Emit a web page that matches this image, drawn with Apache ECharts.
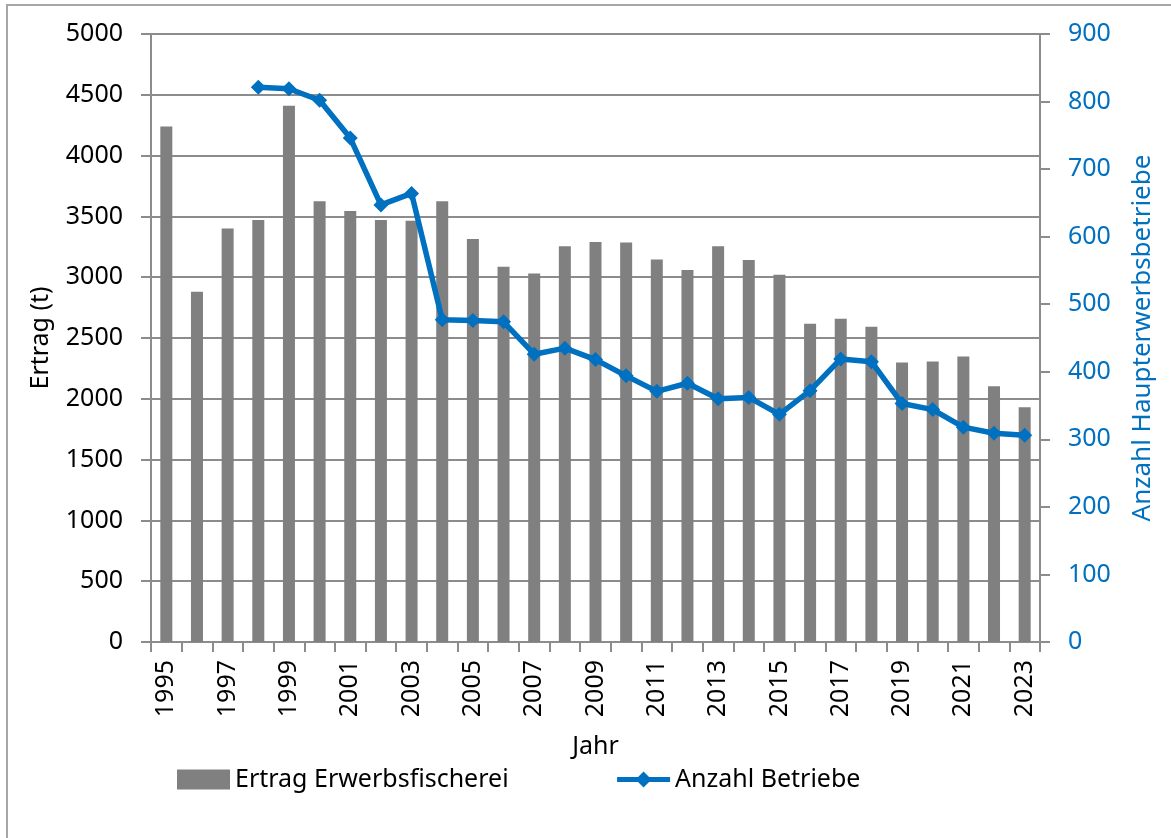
<!DOCTYPE html>
<html>
<head>
<meta charset="utf-8">
<script src="https://cdn.jsdelivr.net/npm/echarts@6/dist/echarts.min.js"></script>
<style>
  html, body { margin: 0; padding: 0; background: #fff; }
  .rahmen { position: absolute; left: 6px; top: 4px; width: 1300px; height: 1000px;
    border-left: 2px solid #a6a6a6; border-top: 2px solid #a6a6a6; }
  .chartStyle { position: absolute; left: 0; top: 0; width: 1171px; height: 838px; }
</style>
</head>
<body>
<div class="rahmen"></div>
<div class="chartStyle" id="chart"></div>
<script>
// Jahre
const jahre = ["1995","1996","1997","1998","1999","2000","2001","2002","2003","2004",
  "2005","2006","2007","2008","2009","2010","2011","2012","2013","2014",
  "2015","2016","2017","2018","2019","2020","2021","2022","2023"];
// Ertrag Erwerbsfischerei (t)
const ertrag = [4240, 2880, 3400, 3470, 4410, 3625, 3545, 3470, 3465, 3625,
  3315, 3085, 3030, 3255, 3290, 3285, 3145, 3060, 3255, 3142,
  3020, 2617, 2658, 2592, 2298, 2306, 2347, 2103, 1930];
// Anzahl Haupterwerbsbetriebe
const betriebe = [null, null, null, 821, 819, 802, 746, 647, 664, 477,
  476, 474, 426, 435, 418, 394, 371, 383, 360, 362,
  337, 372, 419, 415, 353, 344, 318, 309, 306];

const schrift = "Noto Sans";

var myChart = echarts.init(document.getElementById("chart"));
let option = {
  animation: false,
  grid: { left: 151, right: 131, top: 34, bottom: 196, outerBoundsMode: "none" },
  legend: {
    left: 172, top: 762,
    itemWidth: 53, itemHeight: 20, itemGap: 106,
    textStyle: { fontFamily: schrift, fontSize: 25, color: "#000" },
    data: [
      { name: "Ertrag Erwerbsfischerei", icon: "rect" },
      { name: "Anzahl Betriebe", lineStyle: { width: 5 } }
    ]
  },
  xAxis: {
    type: "category",
    data: jahre,
    name: "Jahr",
    nameLocation: "middle",
    nameGap: 92,
    nameTextStyle: { fontFamily: schrift, fontSize: 25, color: "#000" },
    axisLine: { lineStyle: { color: "#8c8c8c", width: 2 } },
    axisTick: { show: true, interval: 0, length: 10, lineStyle: { color: "#8c8c8c", width: 2 } },
    axisLabel: { interval: 1, rotate: 90, margin: 18, fontFamily: schrift, fontSize: 25, color: "#000" }
  },
  yAxis: [
    {
      type: "value", min: 0, max: 5000, interval: 500,
      name: "Ertrag (t)",
      nameLocation: "middle",
      nameGap: 98,
      nameRotate: 90,
      nameTextStyle: { fontFamily: schrift, fontSize: 25, color: "#000" },
      axisLine: { show: true, lineStyle: { color: "#8c8c8c", width: 2 } },
      axisTick: { show: true, length: 10, lineStyle: { color: "#8c8c8c", width: 2 } },
      axisLabel: { margin: 28, fontFamily: schrift, fontSize: 25, color: "#000", formatter: v => String(v) },
      splitLine: { lineStyle: { color: "#8c8c8c", width: 2 } }
    },
    {
      type: "value", min: 0, max: 900, interval: 100,
      name: "Anzahl Haupterwerbsbetriebe",
      nameLocation: "middle",
      nameGap: 90,
      nameRotate: 90,
      nameTextStyle: { fontFamily: schrift, fontSize: 26, color: "#0070c0" },
      axisLine: { show: true, lineStyle: { color: "#8c8c8c", width: 2 } },
      axisTick: { show: true, length: 10, lineStyle: { color: "#8c8c8c", width: 2 } },
      axisLabel: { margin: 28, fontFamily: schrift, fontSize: 25, color: "#0070c0", formatter: v => String(v) },
      splitLine: { show: false }
    }
  ],
  series: [
    {
      name: "Ertrag Erwerbsfischerei",
      type: "bar",
      data: ertrag,
      barWidth: 12,
      itemStyle: { color: "#808080" }
    },
    {
      name: "Anzahl Betriebe",
      type: "line",
      yAxisIndex: 1,
      data: betriebe,
      symbol: "diamond",
      symbolSize: 15,
      showAllSymbol: true,
      lineStyle: { color: "#0070c0", width: 5.5 },
      itemStyle: { color: "#0070c0" }
    }
  ]
};
myChart.setOption(option, true);
</script>
</body>
</html>
